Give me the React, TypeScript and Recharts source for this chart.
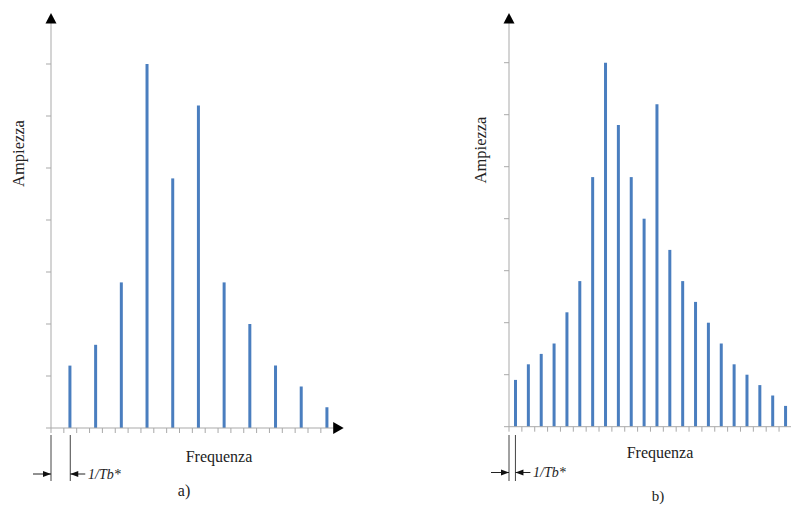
import React from "react";
import { Bar, BarChart, XAxis, YAxis } from "recharts";

// a) spectrum: lines on every other 1/Tb* slot
const freqA = [1.5, 3.5, 5.5, 7.5, 9.5, 11.5, 13.5, 15.5, 17.5, 19.5, 21.5];
const ampA = [1.2, 1.6, 2.8, 7.0, 4.8, 6.2, 2.8, 2.0, 1.2, 0.8, 0.4];

// b) spectrum: a line on every slot
const freqB = [
  0.5, 1.5, 2.5, 3.5, 4.5, 5.5, 6.5, 7.5, 8.5, 9.5, 10.5, 11.5, 12.5, 13.5, 14.5, 15.5, 16.5, 17.5, 18.5, 19.5, 20.5, 21.5,
];
const ampB = [0.9, 1.2, 1.4, 1.6, 2.2, 2.8, 4.8, 7.0, 5.8, 4.8, 4.0, 6.2, 3.4, 2.8, 2.4, 2.0, 1.6, 1.2, 1.0, 0.8, 0.6, 0.4];

const xTicks = [0, 1, 2, 3, 4, 5, 6, 7, 8, 9, 10, 11, 12, 13, 14, 15, 16, 17, 18, 19, 20, 21];
const yTicks = [0, 1, 2, 3, 4, 5, 6, 7];

const SERIF = '"Liberation Serif", "Times New Roman", serif';
const AXIS = "#a9a9a9";
const BLUE = "#4a7ebf";
const H = 506;
const CHART_W = 360;
const PLOT_H = 405.6; // 7.8 units of 52px
const Y_MAX = 7.8;
const Y_AXIS_W = 6;

type PanelProps = {
  freq: number[];
  amp: number[];
  left: number;
  axisOffset: number;
  base: number;
  unit: number;
};

function Panel({ freq, amp, left, axisOffset, base, unit }: PanelProps) {
  const data = freq.map((f, i) => ({ f, a: amp[i] }));
  const top = base - PLOT_H;
  const right = CHART_W - axisOffset - 22 * unit;
  return (
    <BarChart
      width={CHART_W}
      height={H}
      data={data}
      margin={{ top, right, bottom: H - base - 5, left: axisOffset - Y_AXIS_W }}
      style={{ position: "absolute", left, top: 0, overflow: "visible" }}
    >
      <XAxis
        type="number"
        dataKey="f"
        domain={[0, 22]}
        ticks={xTicks}
        height={5}
        tickSize={5}
        stroke={AXIS}
        tickFormatter={() => ""}
        allowDataOverflow
      />
      <YAxis
        type="number"
        domain={[0, Y_MAX]}
        ticks={yTicks}
        width={Y_AXIS_W}
        tickSize={5}
        stroke={AXIS}
        tickFormatter={() => ""}
      />
      <Bar dataKey="a" fill={BLUE} barSize={3} isAnimationActive={false} />
    </BarChart>
  );
}

function Dimension({ x1, x2, y, textX }: { x1: number; x2: number; y: number; textX: number }) {
  return (
    <g>
      <line x1={x1} x2={x1} y1={435} y2={481} stroke="#444" strokeWidth={1} />
      <line x1={x2} x2={x2} y1={435} y2={481} stroke="#444" strokeWidth={1} />
      <line x1={x1 - 18} x2={x1} y1={y} y2={y} stroke="#222" strokeWidth={1} />
      <polygon points={`${x1},${y} ${x1 - 8},${y - 3} ${x1 - 8},${y + 3}`} fill="#111" />
      <line x1={x2} x2={x2 + 15} y1={y} y2={y} stroke="#222" strokeWidth={1} />
      <polygon points={`${x2},${y} ${x2 + 8},${y - 3} ${x2 + 8},${y + 3}`} fill="#111" />
      <text x={textX} y={y + 4.5} fontFamily={SERIF} fontStyle="italic" fontSize={14} fill="#222">
        1/Tb*
      </text>
    </g>
  );
}

export default function App() {
  const A = { axisX: 51, base: 428, unit: 12.85 };
  const B = { axisX: 509, base: 426.7, unit: 12.86 };
  return (
    <div
      style={{
        position: "absolute",
        left: 0,
        top: 0,
        width: 791,
        height: H,
        overflow: "hidden",
        background: "#fff",
      }}
    >
      <Panel freq={freqA} amp={ampA} left={0} axisOffset={A.axisX} base={A.base} unit={A.unit} />
      <Panel freq={freqB} amp={ampB} left={460} axisOffset={B.axisX - 460} base={B.base} unit={B.unit} />
      <svg width={791} height={H} style={{ position: "absolute", left: 0, top: 0, pointerEvents: "none" }}>
        {/* axis arrowheads */}
        <polygon points={`${A.axisX},13 ${A.axisX - 5.5},23.5 ${A.axisX + 5.5},23.5`} fill="#000" />
        <polygon points={`${B.axisX},13 ${B.axisX - 5.5},23.5 ${B.axisX + 5.5},23.5`} fill="#000" />
        <polygon
          points={`${A.axisX + 22 * A.unit - 0.5},${A.base - 6} ${A.axisX + 22 * A.unit + 10},${A.base} ${A.axisX + 22 * A.unit - 0.5},${A.base + 6}`}
          fill="#000"
        />

        <text
          transform={`translate(18,153.5) rotate(-90)`}
          textAnchor="middle"
          dominantBaseline="central"
          fontFamily={SERIF}
          fontSize={16.5}
          fill="#222"
        >
          Ampiezza
        </text>
        <text
          transform={`translate(480,150) rotate(-90)`}
          textAnchor="middle"
          dominantBaseline="central"
          fontFamily={SERIF}
          fontSize={16.5}
          fill="#222"
        >
          Ampiezza
        </text>

        <text x={219} y={462} textAnchor="middle" fontFamily={SERIF} fontSize={16} fill="#222">
          Frequenza
        </text>
        <text x={660} y={458} textAnchor="middle" fontFamily={SERIF} fontSize={16} fill="#222">
          Frequenza
        </text>
        <text x={184} y={496} textAnchor="middle" fontFamily={SERIF} fontSize={16} fill="#222">
          a)
        </text>
        <text x={658} y={501} textAnchor="middle" fontFamily={SERIF} fontSize={15} fill="#222">
          b)
        </text>

        <Dimension x1={A.axisX} x2={A.axisX + freqA[0] * A.unit} y={474} textX={88} />
        <Dimension x1={B.axisX} x2={B.axisX + freqB[0] * B.unit} y={472.5} textX={533} />
      </svg>
    </div>
  );
}
